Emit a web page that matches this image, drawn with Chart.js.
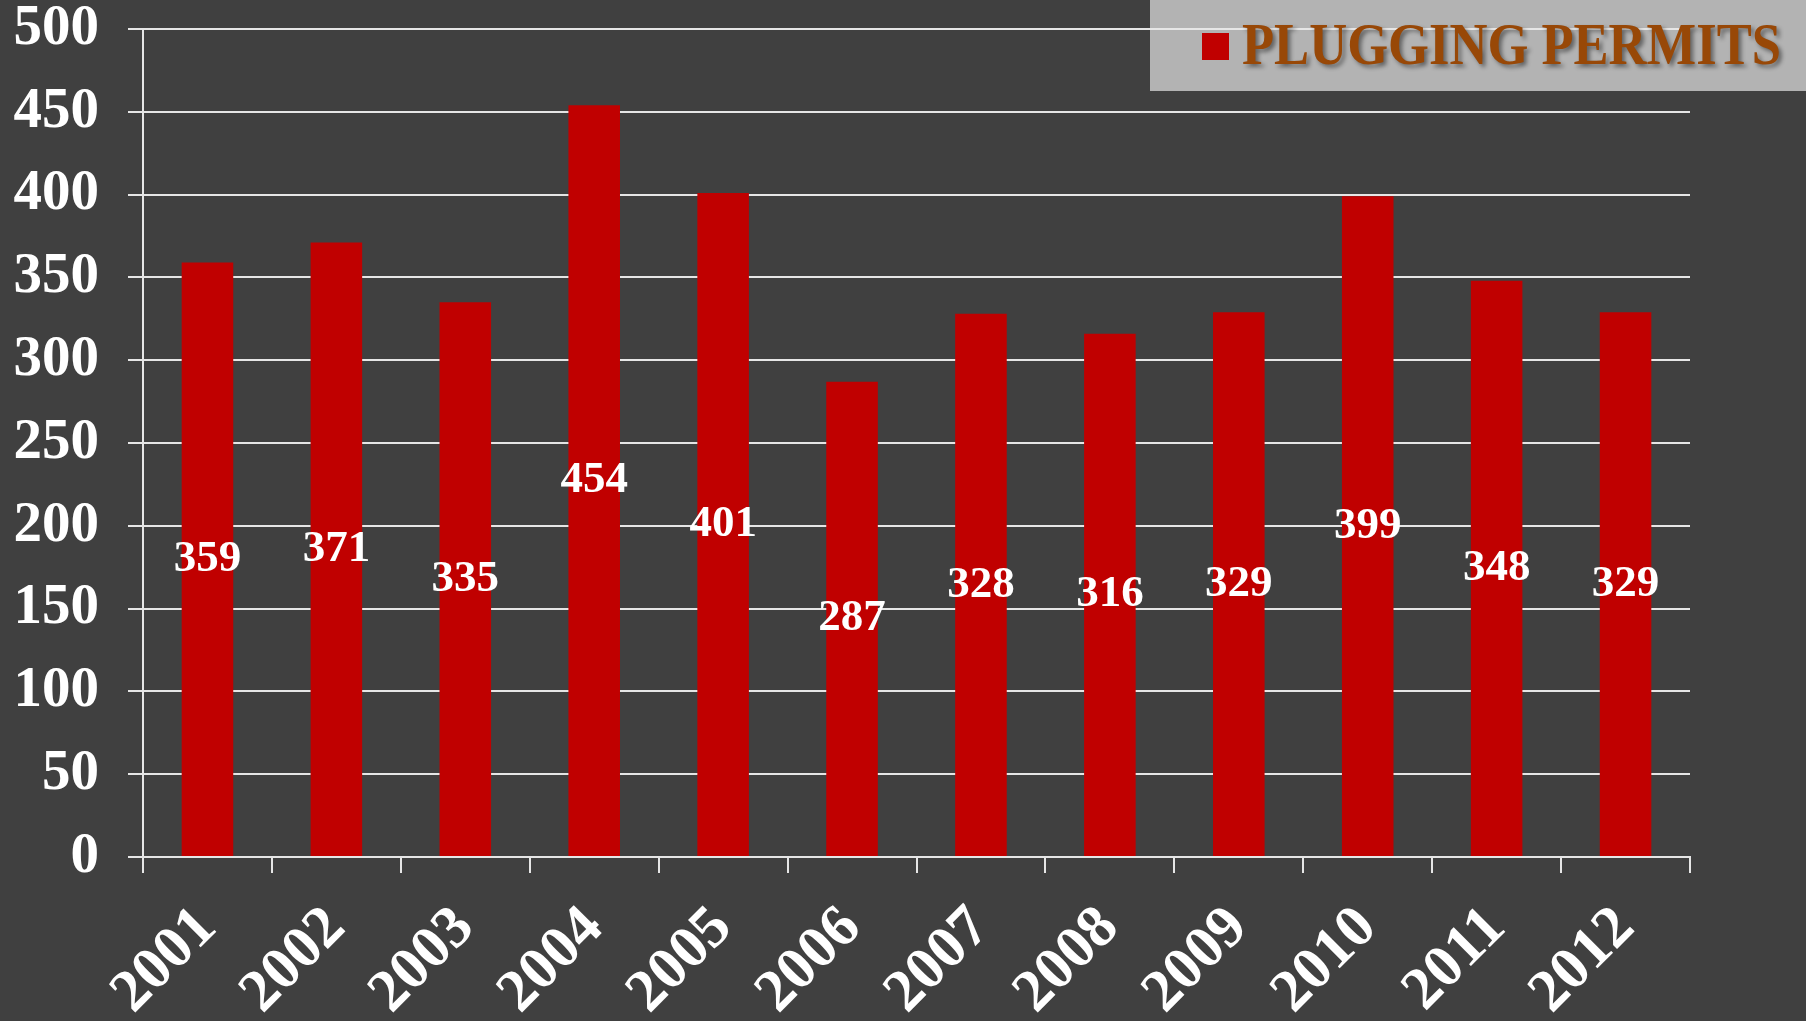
<!DOCTYPE html>
<html>
<head>
<meta charset="utf-8">
<script src="https://cdn.jsdelivr.net/npm/chart.js@4/dist/chart.umd.min.js"></script>
<style>
  html, body { margin: 0; padding: 0; background: #404040; }
  canvas { display: block; }
</style>
</head>
<body>
<canvas id="c" width="1806" height="1021"></canvas>
<script>
const categories = ['2001','2002','2003','2004','2005','2006','2007','2008','2009','2010','2011','2012'];
const pluggingPermits = [359, 371, 335, 454, 401, 287, 328, 316, 329, 399, 348, 329];
const seriesName = 'PLUGGING PERMITS';
const yTicks = [0, 50, 100, 150, 200, 250, 300, 350, 400, 450, 500];

const SERIF = '"Liberation Serif", "DejaVu Serif", serif';
const BG = '#404040';
const BAR = '#c00000';
const GRID = '#e6e6e6';

const backgroundAndLegendBox = {
  id: 'bgBox',
  beforeDraw(chart) {
    const ctx = chart.ctx;
    ctx.save();
    ctx.fillStyle = BG;
    ctx.fillRect(0, 0, chart.width, chart.height);
    ctx.fillStyle = '#b3b3b3';
    ctx.fillRect(1150, 0, chart.width - 1150, 91);
    ctx.restore();
  },
  afterDraw(chart) {
    const ctx = chart.ctx;
    ctx.save();
    ctx.fillStyle = BAR;
    ctx.fillRect(1202, 33, 27, 27);
    ctx.font = 'bold 60px ' + SERIF;
    ctx.textBaseline = 'alphabetic';
    ctx.textAlign = 'left';
    const w = ctx.measureText(seriesName).width;
    const target = 539;
    const sx = target / w;
    ctx.translate(1242, 64);
    ctx.scale(sx, 1);
    ctx.shadowColor = 'rgba(0,0,0,0.45)';
    ctx.shadowBlur = 4;
    ctx.shadowOffsetX = 3;
    ctx.shadowOffsetY = 3;
    ctx.fillStyle = '#984807';
    ctx.fillText(seriesName, 0, 0);
    ctx.restore();
  }
};

const barValueLabels = {
  id: 'barValues',
  afterDatasetsDraw(chart) {
    const ctx = chart.ctx;
    const meta = chart.getDatasetMeta(0);
    const data = chart.data.datasets[0].data;
    ctx.save();
    ctx.font = 'bold 45px ' + SERIF;
    ctx.fillStyle = '#ffffff';
    ctx.textAlign = 'center';
    ctx.textBaseline = 'middle';
    meta.data.forEach((bar, i) => {
      const p = bar.getProps(['x', 'y', 'base'], true);
      ctx.fillText(String(data[i]), p.x, (p.y + p.base) / 2);
    });
    ctx.restore();
  }
};

new Chart(document.getElementById('c'), {
  type: 'bar',
  data: {
    labels: categories,
    datasets: [{
      label: seriesName,
      data: pluggingPermits,
      backgroundColor: BAR,
      borderWidth: 0,
      categoryPercentage: 0.8,
      barPercentage: 0.5
    }]
  },
  options: {
    responsive: false,
    animation: false,
    devicePixelRatio: 1,
    layout: { padding: { top: 29, right: 116, left: 0, bottom: 0 } },
    plugins: {
      legend: { display: false },
      tooltip: { enabled: false }
    },
    scales: {
      x: {
        offset: true,
        grid: {
          display: true,
          drawOnChartArea: false,
          drawTicks: true,
          tickLength: 16,
          color: GRID,
          lineWidth: 2,
          offset: true
        },
        border: { display: true, color: GRID, width: 2 },
        ticks: {
          color: '#ffffff',
          font: { family: SERIF, size: 60, weight: 'bold' },
          minRotation: 45,
          maxRotation: 45,
          padding: 20,
          autoSkip: false
        },
        afterFit(scale) {
          scale.height = 164;
          scale.paddingLeft = 0; scale.paddingRight = 0;
          scale.paddingTop = 0; scale.paddingBottom = 0;
        }
      },
      y: {
        min: 0,
        max: 500,
        afterBuildTicks(scale) { scale.ticks = yTicks.map(v => ({ value: v })); },
        grid: {
          color: GRID,
          lineWidth: 2,
          drawTicks: true,
          tickLength: 15
        },
        border: { display: true, color: GRID, width: 2 },
        ticks: {
          color: '#ffffff',
          font: { family: SERIF, size: 57, weight: 'bold' },
          padding: 29
        },
        afterFit(scale) {
          scale.width = 143;
          scale.paddingTop = 0; scale.paddingBottom = 0;
          scale.paddingLeft = 0; scale.paddingRight = 0;
        }
      }
    }
  },
  plugins: [backgroundAndLegendBox, barValueLabels]
});
</script>
</body>
</html>
